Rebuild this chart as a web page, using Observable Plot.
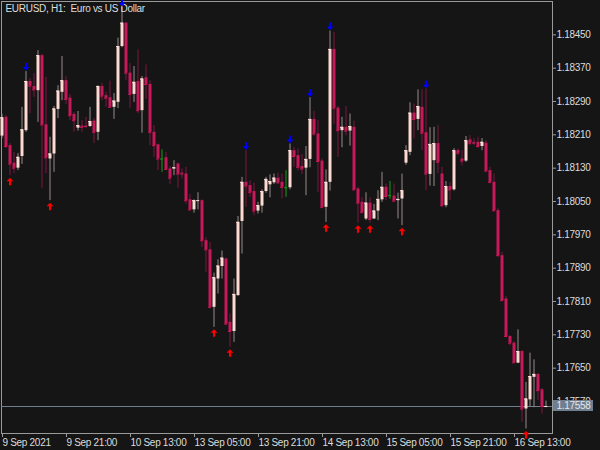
<!DOCTYPE html>
<html>
<head>
<meta charset="utf-8">
<script src="https://cdn.jsdelivr.net/npm/d3@7"></script>
<script src="https://cdn.jsdelivr.net/npm/@observablehq/plot@0.6"></script>
<style>
  html, body { margin: 0; padding: 0; background: #151515; }
  svg text { white-space: pre; }
</style>
</head>
<body>
<div id="chart"></div>
<script>
const title = "EURUSD, H1:  Euro vs US Dollar";

const open = [1.18207,1.18252,1.18184,1.18142,1.18130,1.18158,1.18220,1.18338,1.18326,1.18316,
1.18400,1.18234,1.18152,1.18164,1.18271,1.18312,1.18340,1.18298,1.18259,1.18226,
1.18231,1.18231,1.18230,1.18243,1.18216,1.18326,1.18304,1.18299,1.18276,1.18288,
1.18422,1.18478,1.18358,1.18307,1.18338,1.18268,1.18347,1.18331,1.18216,1.18186,
1.18152,1.18155,1.18128,1.18128,1.18140,1.18118,1.18116,1.18054,1.18030,1.18051,
1.18052,1.17956,1.17934,1.17796,1.17864,1.17894,1.17912,1.17760,1.17738,1.17824,
1.18002,1.18096,1.18088,1.18074,1.18027,1.18039,1.18074,1.18090,1.18095,1.18106,
1.18096,1.18083,1.18083,1.18172,1.18160,1.18134,1.18130,1.18151,1.18247,1.18212,
1.18147,1.18036,1.18096,1.18415,1.18274,1.18220,1.18228,1.18219,1.18228,1.18080,
1.18048,1.18008,1.18046,1.18008,1.18027,1.18054,1.18084,1.18064,1.18063,1.18052,
1.18056,1.18142,1.18168,1.18262,1.18247,1.18276,1.18215,1.18115,1.18148,1.18189,
1.18116,1.18040,1.18086,1.18078,1.18172,1.18152,1.18147,1.18198,1.18192,1.18192,
1.18182,1.18190,1.18124,1.18096,1.18028,1.17920,1.17816,1.17726,1.17710,1.17662,
1.17690,1.17552,1.17574,1.17628,1.17635,1.17598,1.17556];

const high = [1.18259,1.18256,1.18189,1.18168,1.18165,1.18276,1.18362,1.18345,1.18357,1.18412,
1.18403,1.18348,1.18204,1.18278,1.18328,1.18398,1.18350,1.18307,1.18264,1.18266,
1.18244,1.18252,1.18276,1.18249,1.18328,1.18334,1.18312,1.18339,1.18309,1.18442,
1.18516,1.18480,1.18381,1.18374,1.18414,1.18350,1.18378,1.18340,1.18232,1.18188,
1.18174,1.18168,1.18134,1.18148,1.18142,1.18128,1.18132,1.18067,1.18054,1.18071,
1.18054,1.17963,1.17952,1.17878,1.17910,1.17931,1.17914,1.17780,1.17864,1.18014,
1.18108,1.18172,1.18100,1.18094,1.18048,1.18078,1.18108,1.18114,1.18116,1.18118,
1.18116,1.18124,1.18188,1.18180,1.18176,1.18163,1.18182,1.18299,1.18266,1.18244,
1.18152,1.18126,1.18459,1.18456,1.18278,1.18252,1.18278,1.18260,1.18243,1.18084,
1.18059,1.18071,1.18059,1.18043,1.18076,1.18120,1.18092,1.18098,1.18092,1.18070,
1.18116,1.18184,1.18287,1.18284,1.18318,1.18318,1.18320,1.18227,1.18228,1.18232,
1.18132,1.18098,1.18096,1.18177,1.18176,1.18172,1.18206,1.18208,1.18201,1.18204,
1.18201,1.18196,1.18132,1.18116,1.18033,1.17928,1.17822,1.17728,1.17714,1.17742,
1.17692,1.17616,1.17686,1.17670,1.17637,1.17601,1.17571];

const low = [1.18201,1.18177,1.18112,1.18117,1.18124,1.18139,1.18216,1.18261,1.18300,1.18240,
1.18081,1.18117,1.18052,1.18120,1.18249,1.18292,1.18283,1.18244,1.18216,1.18219,
1.18216,1.18225,1.18228,1.18189,1.18196,1.18292,1.18276,1.18274,1.18247,1.18273,
1.18419,1.18340,1.18273,1.18288,1.18261,1.18214,1.18295,1.18184,1.18156,1.18124,
1.18120,1.18124,1.18090,1.18112,1.18082,1.18104,1.18044,1.18027,1.18022,1.18030,
1.17940,1.17880,1.17792,1.17748,1.17828,1.17864,1.17752,1.17700,1.17712,1.17823,
1.17924,1.18036,1.18060,1.18016,1.18020,1.18022,1.18070,1.18059,1.18091,1.18090,
1.18056,1.18060,1.18078,1.18132,1.18123,1.18115,1.18064,1.18131,1.18207,1.18072,
1.18032,1.18000,1.18075,1.18235,1.18156,1.18179,1.18208,1.18183,1.18076,1.17998,
1.18020,1.18004,1.17998,1.18007,1.18004,1.18048,1.18052,1.18055,1.18048,1.18008,
1.17992,1.18137,1.18160,1.18200,1.18220,1.18172,1.18076,1.18087,1.18086,1.18117,
1.18035,1.18035,1.18052,1.18075,1.18160,1.18136,1.18144,1.18184,1.18184,1.18177,
1.18172,1.18120,1.18092,1.18024,1.17916,1.17810,1.17724,1.17704,1.17661,1.17661,
1.17520,1.17504,1.17556,1.17555,1.17572,1.17540,1.17555];

const close = [1.18251,1.18182,1.18140,1.18130,1.18156,1.18222,1.18338,1.18327,1.18318,1.18400,
1.18234,1.18155,1.18164,1.18272,1.18315,1.18340,1.18295,1.18256,1.18244,1.18232,
1.18228,1.18230,1.18242,1.18216,1.18326,1.18303,1.18298,1.18276,1.18291,1.18422,
1.18478,1.18358,1.18307,1.18336,1.18268,1.18344,1.18331,1.18216,1.18184,1.18152,
1.18152,1.18127,1.18106,1.18131,1.18116,1.18116,1.18052,1.18030,1.18052,1.18052,
1.17956,1.17934,1.17796,1.17867,1.17895,1.17914,1.17756,1.17738,1.17827,1.18000,
1.18096,1.18087,1.18072,1.18027,1.18040,1.18074,1.18103,1.18098,1.18106,1.18095,
1.18084,1.18083,1.18172,1.18158,1.18132,1.18128,1.18151,1.18247,1.18212,1.18146,
1.18036,1.18096,1.18415,1.18274,1.18220,1.18228,1.18219,1.18230,1.18078,1.18046,
1.18024,1.18046,1.18007,1.18027,1.18055,1.18084,1.18062,1.18064,1.18051,1.18055,
1.18076,1.18172,1.18262,1.18247,1.18278,1.18214,1.18116,1.18187,1.18189,1.18144,
1.18040,1.18086,1.18078,1.18172,1.18166,1.18147,1.18196,1.18190,1.18190,1.18182,
1.18192,1.18123,1.18096,1.18028,1.17920,1.17812,1.17726,1.17710,1.17663,1.17690,
1.17552,1.17576,1.17630,1.17635,1.17596,1.17558,1.17558];

const upFractals = [6, 30, 61, 72, 77, 82, 106];
const downFractals = [2, 12, 53, 57, 81, 89, 92, 100, 131];

const yTicks = [1.18450,1.18370,1.18290,1.18210,1.18130,1.18050,1.17970,1.17890,1.17810,1.17730,1.17650,1.17570];
const xTickIdx = [0,16,32,48,64,80,96,112,128];
const xLabels = ["9 Sep 2021","9 Sep 21:00","10 Sep 13:00","13 Sep 05:00","13 Sep 21:00","14 Sep 13:00","15 Sep 05:00","15 Sep 21:00","16 Sep 13:00"];
const lastPrice = 1.17558;

const candles = open.map((o, i) => ({
  i, o, h: high[i], l: low[i], c: close[i],
  dir: close[i] > o ? "up" : close[i] < o ? "down" : "doji"
}));

const bodyColor = {up: "#fcd9d3", down: "#c8185a", doji: "#12a012"};
const wickColor = {up: "#978b8b", down: "#7c1640", doji: "#12a012"};

const arrowDown = {draw(ctx) {
  ctx.moveTo(-1, -4); ctx.lineTo(1, -4); ctx.lineTo(1, 0); ctx.lineTo(3.5, 0);
  ctx.lineTo(0, 3.5); ctx.lineTo(-3.5, 0); ctx.lineTo(-1, 0); ctx.closePath();
}};
const arrowUp = {draw(ctx) {
  ctx.moveTo(-1, 4); ctx.lineTo(1, 4); ctx.lineTo(1, 0); ctx.lineTo(3.5, 0);
  ctx.lineTo(0, -3.5); ctx.lineTo(-3.5, 0); ctx.lineTo(-1, 0); ctx.closePath();
}};
const priceBox = {draw(ctx) { ctx.rect(0.5, -6.5, 40, 11); }};

const chart = Plot.plot({
  width: 600,
  height: 450,
  marginLeft: 1,
  marginRight: 48,
  marginTop: 1,
  marginBottom: 17,
  x: {type: "linear", domain: [-0.125, 137.625]},
  y: {domain: [1.174932, 1.1853]},
  color: {type: "identity"},
  style: {
    background: "#151515",
    color: "#dcdcdc",
    fontFamily: "'Liberation Sans', Arial, sans-serif",
    fontSize: "10px",
    letterSpacing: "-0.3px"
  },
  marks: [
    Plot.frame({stroke: "#9a9a9a"}),
    Plot.ruleY([lastPrice], {stroke: "#6f7f8f"}),
    Plot.ruleX(candles, {x: "i", y1: "l", y2: "h", stroke: d => wickColor[d.dir], strokeWidth: 1}),
    Plot.ruleX(candles, {x: "i", y1: "o", y2: "c", stroke: d => bodyColor[d.dir], strokeWidth: 3}),
    Plot.ruleY(candles, {y: "c", x1: d => d.i - 0.375, x2: d => d.i + 0.375, stroke: d => bodyColor[d.dir], strokeWidth: 1}),
    Plot.text([title], {frameAnchor: "top-left", dx: 4, dy: 7.5, textAnchor: "start", lineAnchor: "middle", fill: "#dedede"}),
    Plot.dot(upFractals.map(i => candles[i]), {x: "i", y: "h", symbol: arrowDown, fill: "#0000ff", stroke: "none", dy: -4.5}),
    Plot.dot(downFractals.map(i => candles[i]), {x: "i", y: "l", symbol: arrowUp, fill: "#ff0000", stroke: "none", dy: 5.5}),
    Plot.axisY({anchor: "right", ticks: yTicks, tickFormat: d => d.toFixed(5), tickSize: 3, tickPadding: 1, stroke: "#9a9a9a", fill: "#dcdcdc", label: null}),
    Plot.axisX({ticks: xTickIdx, tickFormat: d => xLabels[xTickIdx.indexOf(d)], tickSize: 4, tickPadding: 1, textAnchor: "start", dx: 0.5, stroke: "#9a9a9a", fill: "#dcdcdc", label: null}),
    Plot.dot([lastPrice], {y: d => d, frameAnchor: "right", symbol: priceBox, fill: "#6f7f8f", stroke: "none"}),
    Plot.text([lastPrice], {y: d => d, frameAnchor: "right", text: d => d.toFixed(5), dx: 4, dy: -1, textAnchor: "start", fill: "#e6e6e6"})
  ]
});
document.getElementById("chart").appendChild(chart);
</script>
</body>
</html>
